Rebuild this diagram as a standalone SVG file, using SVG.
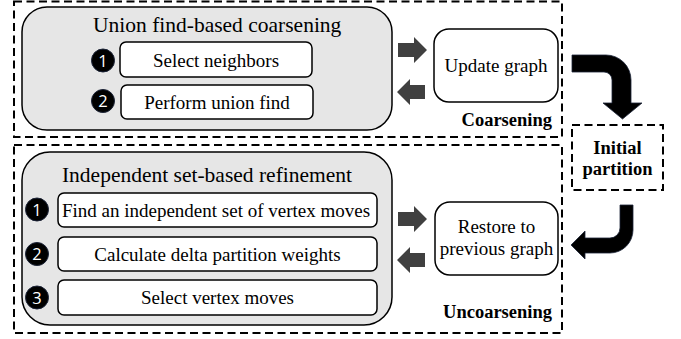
<svg xmlns="http://www.w3.org/2000/svg" width="681" height="339" viewBox="0 0 681 339">
<defs>
<style>
.dash{fill:none;stroke:#000;stroke-width:2;stroke-dasharray:8 4.5}
.gray{fill:#e6e6e6;stroke:#000;stroke-width:1.5}
.box{fill:#fff;stroke:#000;stroke-width:1.5}
.t{font-family:"Liberation Serif","Times New Roman",serif;fill:#000}
.title{font-size:21.5px}
.body{font-size:19px;text-anchor:middle}
.bold{font-size:18.5px;font-weight:bold}
.num{font-family:"Open Sans","Liberation Sans",sans-serif;font-size:16.5px;fill:#fff;text-anchor:middle}
.dot{fill:#000;stroke:#1c2438;stroke-width:1}
.garrow{fill:#404040}
.barrow{fill:#000;stroke:#1c2438;stroke-width:0.8}
</style>
</defs>
<rect width="681" height="339" fill="#fff"/>

<g id="coarsening">
<rect class="dash" x="14" y="1.5" width="548" height="135.5"/>
<text class="t bold" x="552" y="126" text-anchor="end">Coarsening</text>
</g>
<g id="union-find">
<rect class="gray" x="22" y="7" width="370" height="123" rx="25"/>
<text class="t title" x="93" y="32">Union find-based coarsening</text>
</g>
<g id="select-neighbors">
<circle class="dot" cx="103" cy="60.5" r="11.5"/>
<text class="num" x="103" y="66.5">1</text>
<rect class="box" x="120" y="42" width="192" height="35" rx="6"/>
<text class="t body" x="216" y="66.5">Select neighbors</text>
</g>
<g id="perform-union-find">
<circle class="dot" cx="103" cy="101" r="11.5"/>
<text class="num" x="103" y="107">2</text>
<rect class="box" x="121" y="85" width="192" height="34" rx="6"/>
<text class="t body" x="217" y="109">Perform union find</text>
</g>
<g id="update-graph">
<rect class="box" x="434" y="29" width="124" height="73" rx="15"/>
<text class="t body" x="496" y="71.5">Update graph</text>
</g>

<g id="initial-partition">
<rect class="dash" x="572" y="125" width="91" height="65"/>
<text class="t bold" x="617.5" y="154" text-anchor="middle">Initial</text>
<text class="t bold" x="617.5" y="175" text-anchor="middle">partition</text>
</g>

<g id="uncoarsening">
<rect class="dash" x="14" y="145" width="548" height="188"/>
<text class="t bold" x="552" y="318" text-anchor="end">Uncoarsening</text>
</g>
<g id="refinement">
<rect class="gray" x="22" y="152" width="370" height="173" rx="28"/>
<text class="t title" x="207" y="182" text-anchor="middle">Independent set-based refinement</text>
</g>
<g id="find-independent-set">
<circle class="dot" cx="37" cy="209.5" r="11.5"/>
<text class="num" x="37" y="215.5">1</text>
<rect class="box" x="58" y="193" width="319" height="34" rx="6"/>
<text class="t body" x="216" y="216.5">Find an independent set of vertex moves</text>
</g>
<g id="calculate-delta">
<circle class="dot" cx="37" cy="254" r="11.5"/>
<text class="num" x="37" y="260">2</text>
<rect class="box" x="58" y="237" width="319" height="34" rx="6"/>
<text class="t body" x="217.5" y="260.5">Calculate delta partition weights</text>
</g>
<g id="select-vertex-moves">
<circle class="dot" cx="37" cy="297.5" r="11.5"/>
<text class="num" x="37" y="303.5">3</text>
<rect class="box" x="58" y="280" width="319" height="35" rx="6"/>
<text class="t body" x="217.5" y="304">Select vertex moves</text>
</g>
<g id="restore-graph">
<rect class="box" x="435" y="202" width="123" height="73" rx="15"/>
<text class="t body" x="496.5" y="233">Restore to</text>
<text class="t body" x="496.5" y="255">previous graph</text>
</g>

<g id="connectors">
<path class="garrow" d="M398,43 H414 V37 L427,50 L414,63 V57 H398 Z"/>
<path class="garrow" d="M425,85 H410 V79 L397,92 L410,105 V99 H425 Z"/>
<path class="garrow" d="M398,212 H414 V206 L427,219 L414,232 V226 H398 Z"/>
<path class="garrow" d="M425,253 H410 V247 L397,260 L410,273 V267 H425 Z"/>
<path class="barrow" d="M572,55 L606,55 A25,25 0 0 1 631,80 L631,103 L642,103 L622.5,119 L603,103 L612,103 L612,80 A8,8 0 0 0 604,72 L572,72 Z"/>
<path class="barrow" d="M620,205 L633,205 L633,230 A23,23 0 0 1 610,253 L585,253 L585,259 L571,245 L585,231 L585,238 L610,238 A10,10 0 0 0 620,228 Z"/>
</g>
</svg>
